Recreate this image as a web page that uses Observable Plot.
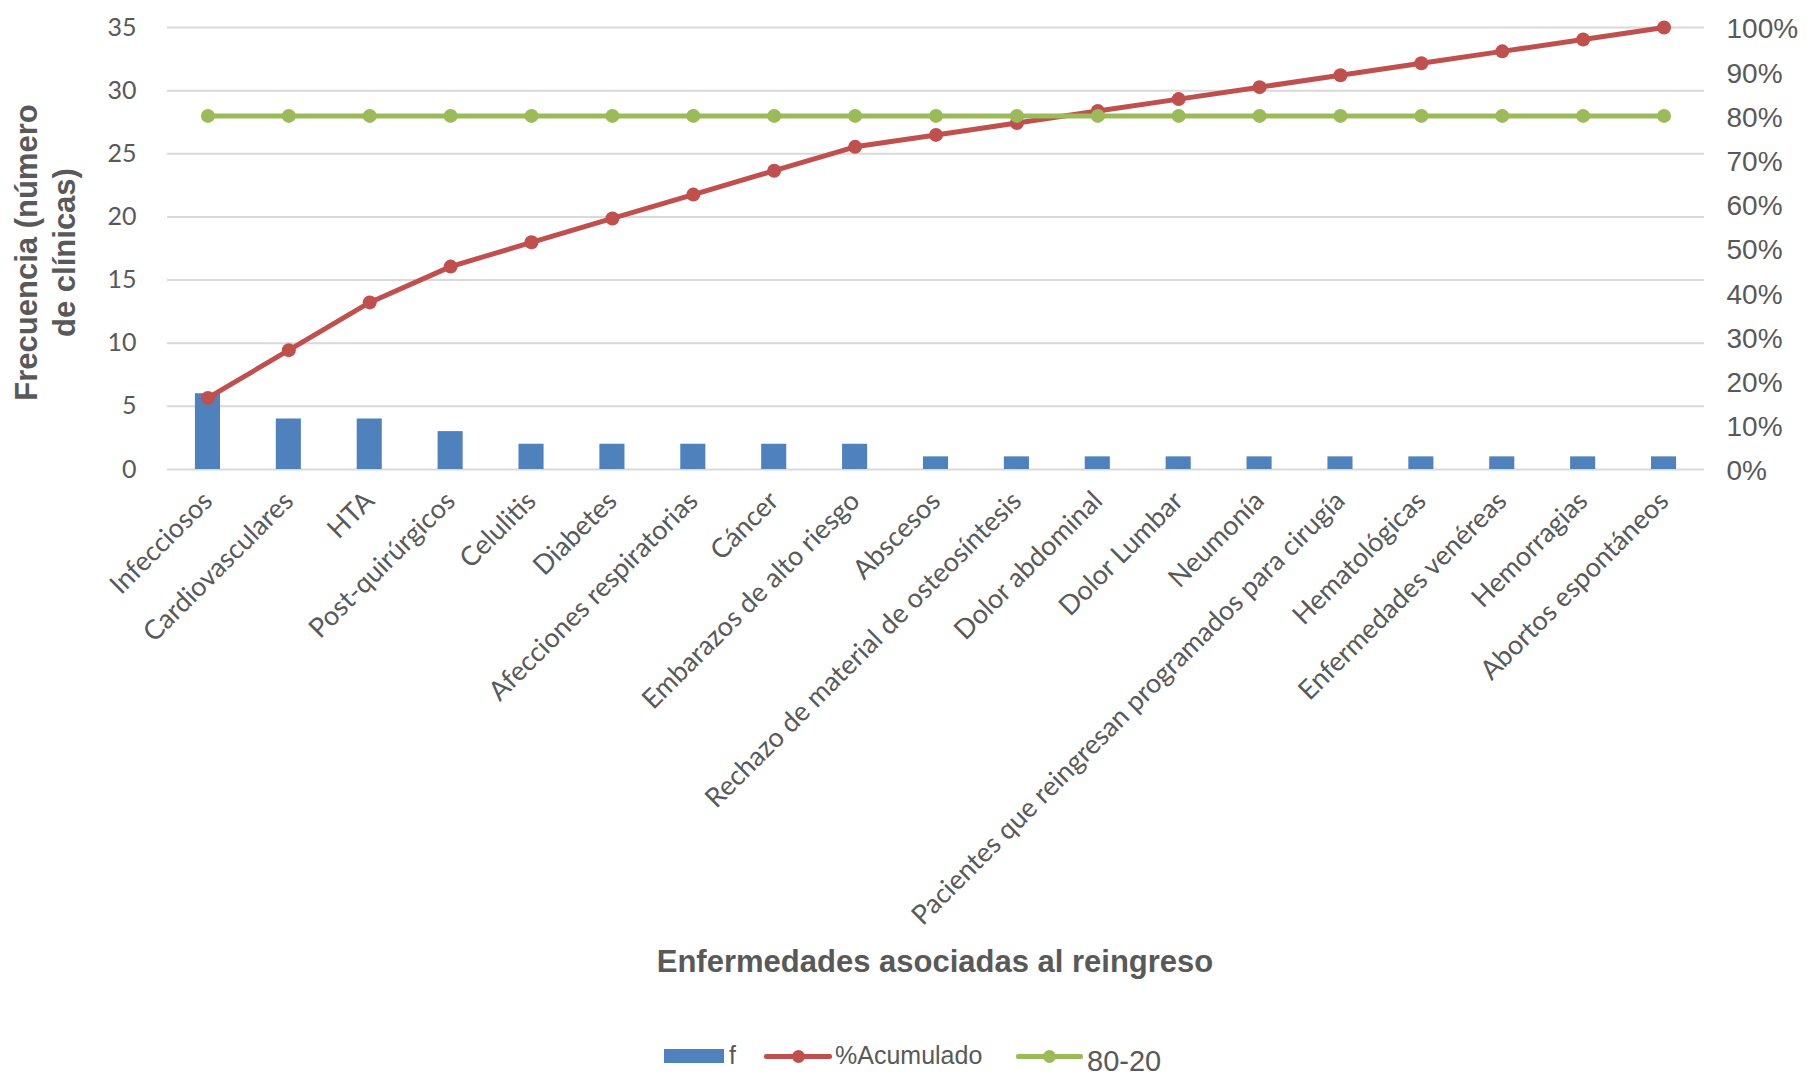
<!DOCTYPE html>
<html><head><meta charset="utf-8">
<script src="https://cdn.jsdelivr.net/npm/d3@7"></script>
<script src="https://cdn.jsdelivr.net/npm/@observablehq/plot@0.6"></script>
<style>
body{margin:0;background:#fff;width:1807px;height:1075px;overflow:hidden}
#chart svg{display:block}
#xtitle{position:relative;height:54px}
#xtitle span{position:absolute;left:935px;top:27px;transform:translate(-50%,-50%);font:bold 31px "Liberation Sans",Arial,sans-serif;color:#595959;white-space:nowrap}
#legend{position:relative;height:86px;font-family:"Liberation Sans",Arial,sans-serif;color:#595959}
#legend .it{position:absolute;white-space:nowrap;line-height:1}
#legend .ln{position:absolute;height:5px;border-radius:2px}
#legend .dt{position:absolute;width:13px;height:13px;border-radius:50%}
</style></head><body>
<div id="chart"></div>
<div id="xtitle"><span>Enfermedades asociadas al reingreso</span></div>
<div id="legend"></div>
<script>
const categories = ["Infecciosos","Cardiovasculares","HTA","Post-quirúrgicos","Celulitis","Diabetes","Afecciones respiratorias","Cáncer","Embarazos de alto riesgo","Abscesos","Rechazo de material de osteosíntesis","Dolor abdominal","Dolor Lumbar","Neumonía","Pacientes que reingresan programados para cirugía","Hematológicas","Enfermedades venéreas","Hemorragias","Abortos espontáneos"];
const frequency = [6,4,4,3,2,2,2,2,2,1,1,1,1,1,1,1,1,1,1];
const cumulativePct = [16.2,27.0,37.8,45.9,51.4,56.8,62.2,67.6,73.0,75.7,78.4,81.1,83.8,86.5,89.2,91.9,94.6,97.3,100];
const threshold = [80,80,80,80,80,80,80,80,80,80,80,80,80,80,80,80,80,80,80];
const leftTicks = [0,5,10,15,20,25,30,35];
const rightTicks = [0,10,20,30,40,50,60,70,80,90,100];
const yMax = 35, pctMax = 100;
const k = yMax / pctMax;
const data = categories.map((c,i)=>({cat:c, f:frequency[i], pct:cumulativePct[i], thr:threshold[i]}));

const colF = "#4F81BD", colAcc = "#C0504D", colThr = "#9BBB59", txt = "#595959";

const chart = Plot.plot({
  width: 1807, height: 935,
  marginLeft: 167, marginRight: 103, marginTop: 27, marginBottom: 935 - 469,
  x: {domain: categories, paddingInner: 0.69, paddingOuter: 0.345, round: false},
  y: {domain: [0, yMax]},
  style: {background: "#fff", color: txt},
  marks: [
    Plot.gridY(leftTicks, {stroke: "#d9d9d9", strokeOpacity: 1, strokeWidth: 2}),
    Plot.barY(data, {x: "cat", y: "f", fill: colF}),
    Plot.line(data, {x: "cat", y: d => d.pct * k, stroke: colAcc, strokeWidth: 5}),
    Plot.dot(data, {x: "cat", y: d => d.pct * k, r: 7, fill: colAcc}),
    Plot.line(data, {x: "cat", y: d => d.thr * k, stroke: colThr, strokeWidth: 5}),
    Plot.dot(data, {x: "cat", y: d => d.thr * k, r: 7, fill: colThr}),
    Plot.axisY(leftTicks, {anchor: "left", tickSize: 0, tickPadding: 31, fontSize: 25, fontFamily: "Lato", fill: txt, label: null}),
    Plot.axisY(rightTicks.map(p => p * k), {anchor: "right", tickSize: 0, tickPadding: 22, dy: 2, tickFormat: d => Math.round(d / k) + "%", fontSize: 28, fontFamily: "Liberation Sans", fill: txt, label: null}),
    Plot.axisX({tickRotate: -45, tickSize: 0, tickPadding: 27, fontSize: 27, fontFamily: "Lato", fill: txt, label: null}),
    Plot.text(["Frecuencia (número\nde clínicas)"], {frameAnchor: "left", textAnchor: "middle", dx: -124, dy: 4, rotate: -90, fontSize: 31, fontWeight: "bold", fontFamily: "Liberation Sans", fill: txt, lineHeight: 1.24})
  ]
});
document.getElementById("chart").append(chart);

// legend
const lg = document.getElementById("legend");
const cy = 67;
function add(html){ lg.insertAdjacentHTML("beforeend", html); }
add(`<div style="position:absolute;left:664px;top:${cy-7}px;width:60px;height:14px;background:${colF}"></div>`);
add(`<div class="it" style="left:729px;top:${cy-13}px;font-size:25px">f</div>`);
add(`<div class="ln" style="left:764px;width:68px;top:${cy-2.5}px;background:${colAcc}"></div>`);
add(`<div class="dt" style="left:${798-6.5}px;top:${cy-6.5}px;background:${colAcc}"></div>`);
add(`<div class="it" style="left:835px;top:${cy-13}px;font-size:25px">%Acumulado</div>`);
add(`<div class="ln" style="left:1016px;width:67px;top:${cy-2.5}px;background:${colThr}"></div>`);
add(`<div class="dt" style="left:${1049-6.5}px;top:${cy-6.5}px;background:${colThr}"></div>`);
add(`<div class="it" style="left:1087px;top:${cy-9}px;font-size:29px">80-20</div>`);
</script>
</body></html>
